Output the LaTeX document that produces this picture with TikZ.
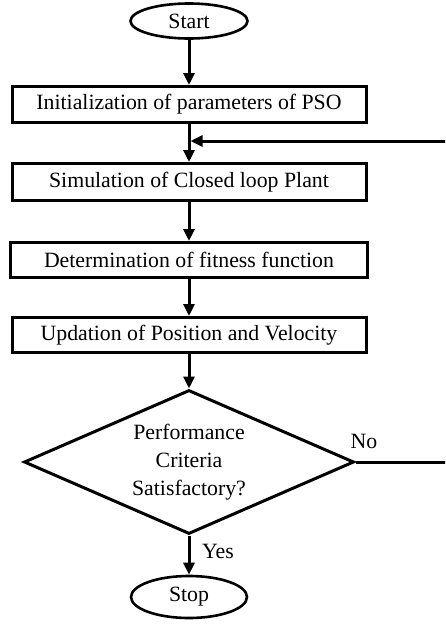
\documentclass[tikz,border=0pt]{standalone}
\usepackage{fontspec}
\setmainfont{Liberation Serif}
\usetikzlibrary{shapes.geometric,arrows.meta}

\begin{document}
\begin{tikzpicture}[x=1pt,y=-1pt,
    every node/.style={font=\fontsize{21.8}{28}\selectfont},
    term/.style={draw,ellipse,line width=2.6pt,inner sep=0pt},
    blk/.style={draw,rectangle,line width=3pt,minimum width=354pt,minimum height=36pt,inner sep=0pt},
    dec/.style={draw,diamond,line width=3pt,aspect=2.26,inner sep=0pt,align=center,minimum width=330pt,minimum height=144pt},
    arr/.style={line width=3pt,-{Triangle[length=12pt,width=11pt]}}]
          \useasboundingbox (0,0) rectangle (445,624);
          \clip (0,0) rectangle (445,624);
          % blocks
          \node[term,minimum width=117pt,minimum height=35pt] (start) at (189,21) {Start};
          \node[blk] (init) at (189,104.5) {Initialization of parameters of PSO};
          \node[blk,minimum height=37pt] (sim) at (189,182) {Simulation of Closed loop Plant};
          \node[blk,minimum width=357pt,minimum height=35pt] (fit) at (189,260) {Determination of fitness function};
          \node[blk,minimum height=35pt] (upd) at (189,335) {Updation of Position and Velocity};
          \node[dec] (perf) at (189,462) {Performance\\Criteria\\Satisfactory?};
          \node[term,minimum width=116pt,minimum height=42pt] (stop) at (189,597) {Stop};
          \node (no) at (364,441) {No};
          \node (yes) at (218,551) {Yes};
          \coordinate (back) at (190.5,141);
          % arrows
          \draw[arr] (start) -- (init);
          \draw[arr] (init) -- (sim);
          \draw[arr] (sim) -- (fit);
          \draw[arr] (fit) -- (upd);
          \draw[arr] (upd) -- (perf);
          \draw[arr] (perf) -- (stop);
          \draw[arr] (perf.east) -- ++(110,0) |- (back);
\end{tikzpicture}
\end{document}
